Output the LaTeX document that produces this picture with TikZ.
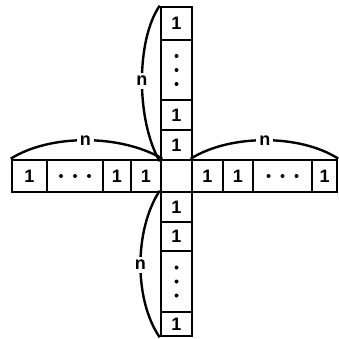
\documentclass[tikz,border=0pt]{standalone}
\usepackage{fontspec}
\setmainfont{Liberation Sans}
\begin{document}
\begin{tikzpicture}[x=1pt,y=-1pt,
  cell/.style={draw,line width=2.6pt,inner sep=0pt,font=\fontsize{18}{18}\selectfont\bfseries},
  arc/.style={line width=2.4pt},
  lab/.style={fill=white,inner sep=3pt,font=\fontsize{18}{18}\selectfont\bfseries},
  dotc/.style={fill=black}]
\useasboundingbox (0,0) rectangle (339,339);
% vertical column
\node[cell,minimum width=31pt,minimum height=33pt] (t1) at (176.5,23.5) {1};
\node[cell,minimum width=31pt,minimum height=60pt] (t2) at (176.5,70) {};
\node[cell,minimum width=31pt,minimum height=30pt] (t3) at (176.5,115) {1};
\node[cell,minimum width=31pt,minimum height=30pt] (t4) at (176.5,145) {1};
\node[cell,minimum width=31pt,minimum height=32pt] (c) at (176.5,176) {};
\node[cell,minimum width=31pt,minimum height=30pt] (b1) at (176.5,207) {1};
\node[cell,minimum width=31pt,minimum height=29pt] (b2) at (176.5,236.5) {1};
\node[cell,minimum width=31pt,minimum height=61pt] (b3) at (176.5,281.5) {};
\node[cell,minimum width=31pt,minimum height=24pt] (b4) at (176.5,324) {1};
% left row
\node[cell,minimum width=35pt,minimum height=32pt] (l1) at (29.5,176) {1};
\node[cell,minimum width=56pt,minimum height=32pt] (l2) at (75,176) {};
\node[cell,minimum width=28pt,minimum height=32pt] (l3) at (117,176) {1};
\node[cell,minimum width=30pt,minimum height=32pt] (l4) at (146,176) {1};
% right row
\node[cell,minimum width=31pt,minimum height=32pt] (r1) at (207.5,176) {1};
\node[cell,minimum width=30pt,minimum height=32pt] (r2) at (238,176) {1};
\node[cell,minimum width=59pt,minimum height=32pt] (r3) at (282.5,176) {};
\node[cell,minimum width=25pt,minimum height=32pt] (r4) at (324.5,176) {1};
% dots
\foreach \d in {-14,0,14} {
  \fill[dotc] ([yshift=\d]t2.center) circle (2);
  \fill[dotc] ([yshift=\d]b3.center) circle (2);
  \fill[dotc] ([xshift=\d]l2.center) circle (2);
  \fill[dotc] ([xshift=\d]r3.center) circle (2);
}
% arcs
\draw[arc] (t1.north west) .. controls (136,40) and (136,120) .. (t4.south west) node[lab,pos=0.5] {n};
\draw[arc] (b1.north west) .. controls (134,230) and (134,300) .. (b4.south west) node[lab,pos=0.5] {n};
\draw[arc] (l1.north west) .. controls (50,134) and (120,134) .. (l4.north east) node[lab,pos=0.5] {n};
\draw[arc] (r1.north west) .. controls (230,134) and (300,134) .. (r4.north east) node[lab,pos=0.5] {n};
\end{tikzpicture}
\end{document}
